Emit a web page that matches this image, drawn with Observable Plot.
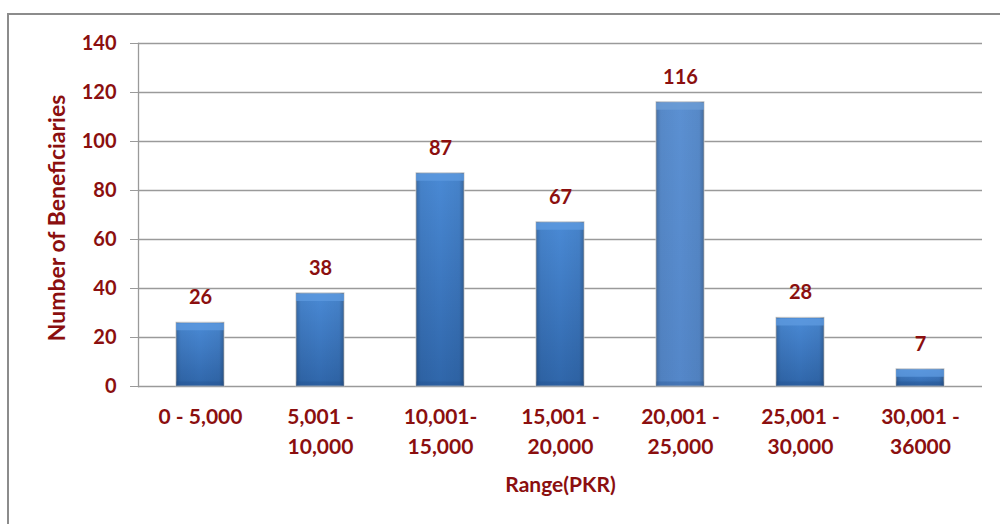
<!DOCTYPE html>
<html>
<head>
<meta charset="utf-8">
<script src="https://cdn.jsdelivr.net/npm/d3@7"></script>
<script src="https://cdn.jsdelivr.net/npm/@observablehq/plot@0.6"></script>
<style>
  html, body { margin: 0; padding: 0; background: #fff; }
  #wrap { position: relative; width: 1000px; height: 524px; overflow: hidden; }
  #frame { position: absolute; left: 7px; top: 13px; width: 1010px; height: 600px; border: 2px solid #8c8c8c; box-sizing: border-box; }
  #chart { position: absolute; left: 0; top: 0; }
</style>
</head>
<body>
<div id="wrap"><div id="frame"></div><div id="chart"></div></div>
<script>
const ranges = ["0 - 5,000", "5,001 -\n10,000", "10,001-\n15,000", "15,001 -\n20,000", "20,001 -\n25,000", "25,001 -\n30,000", "30,001 -\n36000"];
const beneficiaries = [26, 38, 87, 67, 116, 28, 7];
const yTicks = [0, 20, 40, 60, 80, 100, 120, 140];

const data = ranges.map((r, i) => ({range: r, value: beneficiaries[i], idx: i}));
const red = "#8b0f0f";
const font = "Lato, 'Open Sans', sans-serif";

const chart = Plot.plot({
  width: 1000,
  height: 524,
  marginLeft: 138,
  marginRight: 18,
  marginTop: 43,
  marginBottom: 138,
  style: {fontFamily: font, background: "transparent", overflow: "visible"},
  x: {domain: ranges, paddingInner: 0.6, paddingOuter: 0.3, label: null},
  y: {domain: [0, 140], ticks: yTicks, label: null},
  marks: [
    Plot.ruleY(yTicks, {stroke: "#9a9a9a", strokeWidth: 1.3}),
    Plot.frame({anchor: "left", stroke: "#9a9a9a", strokeWidth: 1.3}),
    Plot.barY(data, {x: "range", y: "value", fill: d => d.idx === 4 ? "url(#gradLight)" : "url(#gradBar)", stroke: "#c8c8c8", strokeWidth: 1.2, strokeOpacity: 0.8}),
    Plot.barY(data, {x: "range", y: "value", fill: "url(#gradEdge)"}),
    Plot.tickY(data, {x: "range", y: "value", stroke: d => d.idx === 4 ? "#6e9dd6" : "#5f9be0", strokeWidth: 7, dy: 4, strokeOpacity: 0.75}),
    Plot.tickY(data, {x: "range", y: () => 0, stroke: "#23508a", strokeWidth: 5, dy: -2.5, strokeOpacity: 0.3}),
    Plot.text(data, {x: "range", y: "value", text: d => String(d.value), dy: -25, fill: red, fontSize: 20, fontWeight: "bold"}),
    Plot.axisY(yTicks, {tickSize: 8, tickPadding: 14, stroke: "#9a9a9a", fill: red, fontSize: 20, fontWeight: "bold", tickFormat: d => d}),
    Plot.axisX({tickSize: 0, tickPadding: 17, fill: red, fontSize: 21, fontWeight: "bold", lineHeight: 1.4, textAnchor: "middle"}),
    Plot.text(["Range(PKR)"], {frameAnchor: "bottom", dy: 105, fill: red, fontSize: 21, fontWeight: "bold"}),
    Plot.text(["Number of Beneficiaries"], {frameAnchor: "left", textAnchor: "middle", dx: -81, dy: 3, rotate: -90, fill: red, fontSize: 23, fontWeight: "bold"})
  ]
});

// gradient definitions
const svg = d3.select(chart);
const defs = svg.insert("defs", ":first-child");
function grad(id, vertical, stops) {
  const g = defs.append("linearGradient").attr("id", id).attr("x1", "0").attr("y1", "0")
    .attr("x2", vertical ? "0" : "1").attr("y2", vertical ? "1" : "0");
  stops.forEach(([o, c, op]) => g.append("stop").attr("offset", o).attr("stop-color", c).attr("stop-opacity", op == null ? 1 : op));
}
grad("gradBar", true, [["0", "#4a8ad5"], ["0.5", "#3d78c0"], ["1", "#2f66aa"]]);
grad("gradLight", true, [["0", "#5b90d2"], ["1", "#5487c9"]]);
grad("gradEdge", false, [["0", "#000", 0.22], ["0.1", "#000", 0.05], ["0.5", "#000", 0], ["0.9", "#000", 0.05], ["1", "#000", 0.25]]);

document.getElementById("chart").appendChild(chart);
</script>
</body>
</html>
